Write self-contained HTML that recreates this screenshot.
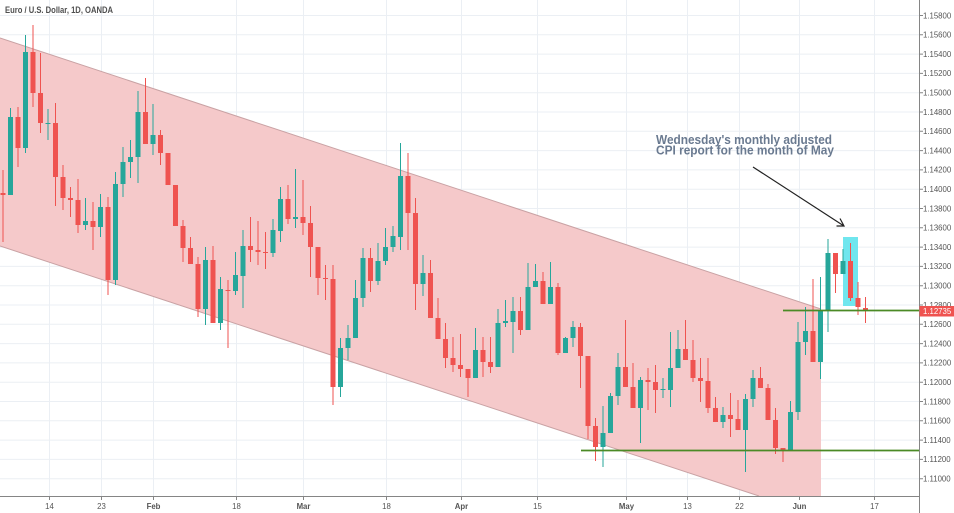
<!DOCTYPE html>
<html><head><meta charset="utf-8"><style>
html,body{margin:0;padding:0;background:#fff;overflow:hidden}
svg{display:block}
text{font-family:"Liberation Sans",Arial,sans-serif}
</style></head><body>
<svg width="954" height="513" viewBox="0 0 954 513" xmlns="http://www.w3.org/2000/svg">
<rect width="954" height="513" fill="#fff"/>
<!-- grid -->
<g stroke="#ebeff4" stroke-width="1">
<path d="M0 15.5H919M0 34.8H919M0 54.1H919M0 73.4H919M0 92.7H919M0 112H919M0 131.3H919M0 150.6H919M0 169.9H919M0 189.2H919M0 208.5H919M0 227.8H919M0 247.1H919M0 266.4H919M0 285.7H919M0 305H919M0 324.3H919M0 343.6H919M0 362.9H919M0 382.2H919M0 401.5H919M0 420.8H919M0 440.1H919M0 459.4H919M0 478.7H919"/>
<path d="M49.5 0V496M101.5 0V496M153.5 0V496M236.5 0V496M303.5 0V496M386.5 0V496M461.5 0V496M537.5 0V496M626.5 0V496M687.5 0V496M739.5 0V496M799.5 0V496M874.5 0V496"/>
</g>
<!-- channel -->
<polygon points="0,38 821,309 821,496 759,496 0,246" fill="#f5c9ca"/>
<path d="M0 38L821 309M0 246L759 496" stroke="#c9a2a4" stroke-width="1" fill="none"/>
<!-- cyan box -->
<rect x="843" y="237" width="15" height="69" fill="#70e6ee"/>
<!-- green candles -->
<g stroke="#26a69a" stroke-width="1" fill="none">
<path d="M10.5 108V195M25.5 35V153M48 109V140M85.5 198V230M100.5 194V237M115.5 172V285M123 147V197M130.5 140V178M138 91V183M153 104V155M205.5 247V325M220.5 277V330M235.5 252V295M243 230V308M273 219V257M280.5 187V242M295.5 169V228M340.5 338V397M348 325V360M355.5 280V338M363 248V307M378 243V285M385.5 228V265M393 226V252M400.5 143V250M423 255V296M475.5 328V378M498 309V367M505.5 300V327M513 297V353M528 263V330M535.5 264V287M550.5 262V304M565.5 337V353M573 321V347M603 406V467M610.5 393V433M618 353V405M640.5 377V443M663 378V398M670.5 332V407M678 330V368M723 407V428M745.5 394V472M753 370V407M790.5 401V451M798 322V420M805.5 307V355M820.5 277V379M828 239V332M843 249V274"/>
</g>
<path fill="#26a69a" d="M8 117h5v78h-5zM23 52h5v96h-5zM45.5 123h5v1h-5zM83 221h5v4h-5zM98 207h5v20h-5zM113 184h5v96h-5zM120.5 162h5v22h-5zM128 157h5v5h-5zM135.5 112h5v45h-5zM150.5 135h5v9h-5zM203 260h5v49h-5zM218 289h5v34h-5zM233 275h5v16h-5zM240.5 246h5v30h-5zM270.5 230h5v23h-5zM278 199h5v32h-5zM293 217h5v2h-5zM338 348h5v39h-5zM345.5 338h5v10h-5zM353 298h5v40h-5zM360.5 258h5v40h-5zM375.5 261h5v20h-5zM383 247h5v14h-5zM390.5 236h5v11h-5zM398 176h5v61h-5zM420.5 273h5v11h-5zM473 350h5v28h-5zM495.5 323h5v44h-5zM503 321h5v2h-5zM510.5 311h5v11h-5zM525.5 287h5v43h-5zM533 281h5v6h-5zM548 287h5v17h-5zM563 338h5v15h-5zM570.5 327h5v11h-5zM600.5 433h5v14h-5zM608 396h5v37h-5zM615.5 367h5v29h-5zM638 380h5v28h-5zM660.5 389h5v1h-5zM668 368h5v22h-5zM675.5 349h5v19h-5zM720.5 415h5v7h-5zM743 399h5v31h-5zM750.5 378h5v21h-5zM788 412h5v39h-5zM795.5 342h5v70h-5zM803 331h5v11h-5zM818 310h5v52h-5zM825.5 253h5v57h-5zM840.5 261h5v13h-5z"/>
<!-- red candles -->
<g stroke="#ef5350" stroke-width="1" fill="none">
<path d="M3 170V242M18 107V167M33 25V107M40.5 53V133M55.5 103V206M63 165V210M70.5 187V217M78 179V233M93 202V250M108 197V295M145.5 78V144M160.5 130V165M168 153V185M175.5 185V226M183 220V262M190.5 237V264M198 257V317M213 246V323M228 280V348M250.5 217V262M258 221V265M265.5 232V269M288 185V224M303 180V235M310.5 206V277M318 247V295M325.5 265V300M333 265V405M370.5 248V292M408 153V250M415.5 198V310M430.5 260V318M438 298V339M445.5 323V368M453 337V372M460.5 334V377M468 369V397M483 337V377M490.5 337V373M520.5 297V335M543 272V304M558 283V355M580.5 323V388M588 356V439M595.5 418V461M625.5 320V387M633 363V408M648 368V410M655.5 365V413M685.5 320V360M693 340V382M700.5 358V402M708 358V413M715.5 397V422M730.5 393V437M738 400V430M760.5 367V388M768 384V420M775.5 408V454M783 448V462M813 279V362M835.5 253V293M850.5 243V301M858 282V315M865.5 297V323"/>
</g>
<path fill="#ef5350" d="M0.5 193h5v2h-5zM15.5 117h5v31h-5zM30.5 52h5v41h-5zM38 93h5v30h-5zM53 123h5v54h-5zM60.5 177h5v21h-5zM68 198h5v2h-5zM75.5 200h5v25h-5zM90.5 221h5v6h-5zM105.5 207h5v73h-5zM143 112h5v32h-5zM158 135h5v18h-5zM165.5 153h5v32h-5zM173 185h5v41h-5zM180.5 226h5v22h-5zM188 248h5v16h-5zM195.5 264h5v45h-5zM210.5 260h5v63h-5zM225.5 290h5v1h-5zM248 246h5v4h-5zM255.5 250h5v2h-5zM263 252h5v1h-5zM285.5 199h5v20h-5zM300.5 217h5v6h-5zM308 223h5v24h-5zM315.5 247h5v31h-5zM323 278h5v1h-5zM330.5 279h5v108h-5zM368 258h5v23h-5zM405.5 176h5v37h-5zM413 213h5v71h-5zM428 273h5v45h-5zM435.5 318h5v21h-5zM443 339h5v19h-5zM450.5 358h5v7h-5zM458 365h5v4h-5zM465.5 369h5v9h-5zM480.5 350h5v12h-5zM488 362h5v5h-5zM518 311h5v19h-5zM540.5 281h5v23h-5zM555.5 287h5v66h-5zM578 327h5v29h-5zM585.5 356h5v70h-5zM593 426h5v21h-5zM623 367h5v20h-5zM630.5 387h5v21h-5zM645.5 380h5v2h-5zM653 382h5v8h-5zM683 349h5v11h-5zM690.5 360h5v18h-5zM698 378h5v3h-5zM705.5 381h5v27h-5zM713 408h5v14h-5zM728 415h5v4h-5zM735.5 419h5v11h-5zM758 378h5v10h-5zM765.5 388h5v32h-5zM773 420h5v28h-5zM780.5 448h5v2h-5zM810.5 331h5v31h-5zM833 253h5v21h-5zM848 261h5v37h-5zM855.5 298h5v9h-5zM863 308h5v2h-5z"/>
<!-- green horizontal lines -->
<path d="M783 310.5H919M581 450.5H919" stroke="#4b8a26" stroke-width="1.8" fill="none"/>
<!-- arrow -->
<path d="M753 167L844 226M836.5 226H844L840 218.5" stroke="#222" stroke-width="1.2" fill="none"/>
<!-- annotation -->
<text x="656" y="144" font-size="12.5" font-weight="bold" fill="#6a7a90" textLength="176" lengthAdjust="spacingAndGlyphs">Wednesday's monthly adjusted</text>
<text x="656" y="154.5" font-size="12.5" font-weight="bold" fill="#6a7a90" textLength="178" lengthAdjust="spacingAndGlyphs">CPI report for the month of May</text>
<!-- title -->
<text x="5" y="13" font-size="9.5" font-weight="bold" fill="#505050" textLength="108" lengthAdjust="spacingAndGlyphs">Euro / U.S. Dollar, 1D, OANDA</text>
<!-- axes panels -->
<rect x="919.5" y="0" width="35" height="513" fill="#fff"/>
<rect x="0" y="496.5" width="954" height="17" fill="#fff"/>
<path d="M919.5 0V513M0 496.5H919.5" stroke="#858585" stroke-width="1" fill="none"/>
<g stroke="#858585" stroke-width="1">
<path d="M919 15.5H923M919 34.8H923M919 54.1H923M919 73.4H923M919 92.7H923M919 112H923M919 131.3H923M919 150.6H923M919 169.9H923M919 189.2H923M919 208.5H923M919 227.8H923M919 247.1H923M919 266.4H923M919 285.7H923M919 305H923M919 324.3H923M919 343.6H923M919 362.9H923M919 382.2H923M919 401.5H923M919 420.8H923M919 440.1H923M919 459.4H923M919 478.7H923"/>
<path d="M49.5 496V500M101.5 496V500M153.5 496V500M236.5 496V500M303.5 496V500M386.5 496V500M461.5 496V500M537.5 496V500M626.5 496V500M687.5 496V500M739.5 496V500M799.5 496V500M874.5 496V500"/>
</g>
<g font-size="7.8" fill="#555">
<text x="923" y="18.3">1.15800</text>
<text x="923" y="37.6">1.15600</text>
<text x="923" y="56.9">1.15400</text>
<text x="923" y="76.2">1.15200</text>
<text x="923" y="95.5">1.15000</text>
<text x="923" y="114.8">1.14800</text>
<text x="923" y="134.1">1.14600</text>
<text x="923" y="153.4">1.14400</text>
<text x="923" y="172.7">1.14200</text>
<text x="923" y="192">1.14000</text>
<text x="923" y="211.3">1.13800</text>
<text x="923" y="230.6">1.13600</text>
<text x="923" y="249.9">1.13400</text>
<text x="923" y="269.2">1.13200</text>
<text x="923" y="288.5">1.13000</text>
<text x="923" y="307.8">1.12800</text>
<text x="923" y="327.1">1.12600</text>
<text x="923" y="346.4">1.12400</text>
<text x="923" y="365.7">1.12200</text>
<text x="923" y="385">1.12000</text>
<text x="923" y="404.3">1.11800</text>
<text x="923" y="423.6">1.11600</text>
<text x="923" y="442.9">1.11400</text>
<text x="923" y="462.2">1.11200</text>
<text x="923" y="481.5">1.11000</text>
</g>
<!-- price label -->
<rect x="919.5" y="306" width="34.5" height="10.5" fill="#ef5350"/>
<text x="923" y="314.2" font-size="7.8" fill="#fff">1.12735</text>
<!-- time labels -->
<g font-size="7.8" fill="#555" text-anchor="middle">
<text x="49.5" y="509">14</text>
<text x="101.5" y="509">23</text>
<text x="153.5" y="509" font-weight="bold">Feb</text>
<text x="236.5" y="509">18</text>
<text x="303.5" y="509" font-weight="bold">Mar</text>
<text x="386.5" y="509">18</text>
<text x="461.5" y="509" font-weight="bold">Apr</text>
<text x="537.5" y="509">15</text>
<text x="626.5" y="509" font-weight="bold">May</text>
<text x="687.5" y="509">13</text>
<text x="739.5" y="509">22</text>
<text x="799.5" y="509" font-weight="bold">Jun</text>
<text x="874.5" y="509">17</text>
</g>
</svg>
</body></html>
